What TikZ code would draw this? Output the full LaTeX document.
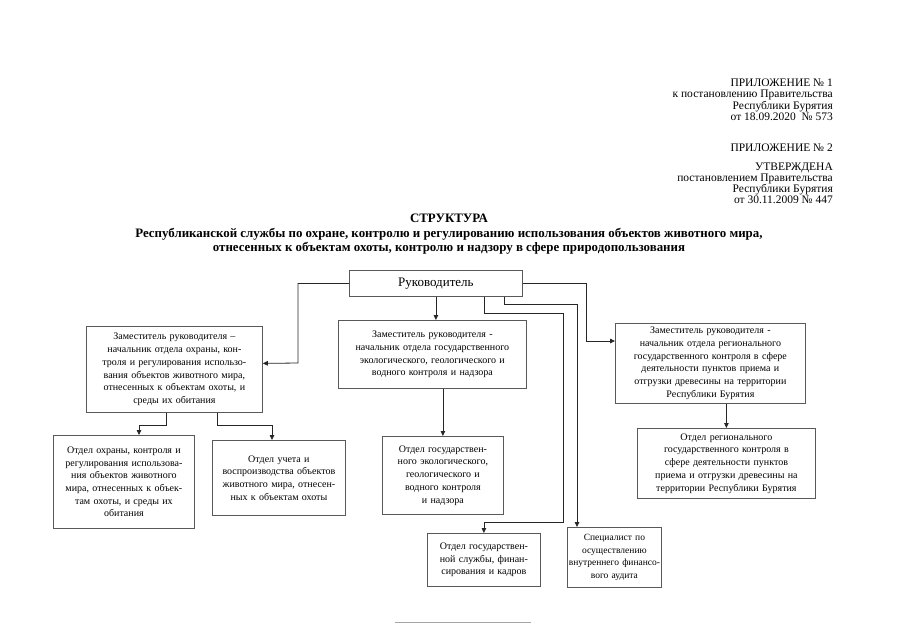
\documentclass[tikz,border=0pt]{standalone}
\usepackage{fontspec}
\setmainfont{Liberation Serif}
\usetikzlibrary{arrows.meta}
\begin{document}
\begin{tikzpicture}[x=1pt,y=-1pt,
  hdr/.style={anchor=base east, inner sep=0pt, font=\fontsize{11.5}{12}\selectfont},
  ttl/.style={anchor=base, inner sep=0pt, font=\fontsize{12.9}{14}\bfseries\selectfont},
  box/.style={draw=black!65, line width=0.8pt, align=center, inner sep=2pt,
    font=\fontsize{10}{12.7}\selectfont, anchor=north west},
  conn/.style={draw=black!85, line width=0.8pt, -{Triangle[length=5pt,width=4.5pt]}}]
\useasboundingbox (0,0) rectangle (905,640);
\fill[white] (0,0) rectangle (905,640);
% header
\node[hdr] (h1) at (833,86) {ПРИЛОЖЕНИЕ № 1};
\node[hdr] (h2) at (833,97.5) {к постановлению Правительства};
\node[hdr] (h3) at (833,109) {Республики Бурятия};
\node[hdr] (h4) at (833,120.5) {от 18.09.2020\ \ № 573};
\node[hdr] (h5) at (833,151) {ПРИЛОЖЕНИЕ № 2};
\node[hdr] (h6) at (833,170.5) {УТВЕРЖДЕНА};
\node[hdr] (h7) at (833,181.5) {постановлением Правительства};
\node[hdr] (h8) at (833,192.5) {Республики Бурятия};
\node[hdr] (h9) at (833,203.5) {от 30.11.2009 № 447};
% title
\node[ttl] (t1) at (449,222.5) {СТРУКТУРА};
\node[ttl] (t2) at (449,237) {Республиканской службы по охране, контролю и регулированию использования объектов животного мира,};
\node[ttl] (t3) at (449,251.5) {отнесенных к объектам охоты, контролю и надзору в сфере природопользования};
% boxes
\node[box, minimum width=173pt, minimum height=26pt, text width=165pt, font=\fontsize{13}{15}\selectfont] (ruk) at (349,270) {Руководитель};
\node[box, minimum width=176pt, minimum height=86pt, text width=170pt] (zamL) at (86,326)
  {Заместитель руководителя –\\начальник отдела охраны, кон-\\троля и регулирования использо-\\вания объектов животного мира,\\отнесенных к объектам охоты, и\\среды их обитания};
\node[box, minimum width=188pt, minimum height=68pt, text width=182pt] (zamC) at (338,320)
  {Заместитель руководителя -\\начальник отдела государственного\\экологического, геологического и\\водного контроля и надзора};
\node[box, minimum width=190pt, minimum height=80pt, text width=184pt] (zamR) at (615,323)
  {Заместитель руководителя -\\начальник отдела регионального\\государственного контроля в сфере\\деятельности пунктов приема и\\отгрузки древесины на территории\\Республики Бурятия};
\node[box, minimum width=141pt, minimum height=93pt, text width=135pt] (otdL1) at (53,435)
  {Отдел охраны, контроля и\\регулирования использова-\\ния объектов животного\\мира, отнесенных к объек-\\там охоты, и среды их\\обитания};
\node[box, minimum width=133pt, minimum height=75pt, text width=127pt] (otdL2) at (212,440)
  {Отдел учета и\\воспроизводства объектов\\животного мира, отнесен-\\ных к объектам охоты};
\node[box, minimum width=121pt, minimum height=78pt, text width=115pt] (otdC) at (382,436)
  {Отдел государствен-\\ного экологического,\\геологического и\\водного контроля\\и надзора};
\node[box, minimum width=178pt, minimum height=70pt, text width=172pt] (otdR) at (637,428)
  {Отдел регионального\\государственного контроля в\\сфере деятельности пунктов\\приема и отгрузки древесины на\\территории Республики Бурятия};
\node[box, minimum width=113pt, minimum height=53pt, text width=107pt] (gs) at (427,533)
  {Отдел государствен-\\ной службы, финан-\\сирования и кадров};
\node[box, inner xsep=0.5pt, minimum width=94pt, minimum height=60pt, text width=93pt,
  font=\fontsize{9.5}{12.7}\selectfont] (spec) at (567,527)
  {Специалист по\\осуществлению\\\mbox{внутреннего финансо-}\\вого аудита};
% connectors
\draw[conn] (ruk.west) -| (298,363) -- ([yshift=6pt]zamL.east);
\draw[conn] (ruk.south) -- (ruk.south |- zamC.north);
\draw[conn] (ruk.east) -| (586,341) -- ([yshift=-18pt]zamR.north west);
\draw[conn] (gs.north |- ruk.south) -- ++(0,17) -| (563,522) -| (gs.north);
\draw[conn] ([xshift=68pt]ruk.south) -- ++(0,8) -| ([xshift=10pt]spec.north west);
\draw[conn] ([xshift=80pt]zamL.south west) -- ++(0,13) -| ([xshift=86pt]otdL1.north west);
\draw[conn] ([xshift=131pt]zamL.south west) -- ++(0,13) -| ([xshift=60pt]otdL2.north west);
\draw[conn] (otdC.north |- zamC.south) -- (otdC.north);
\draw[conn] (otdR.north |- zamR.south) -- (otdR.north);
% footer rule
\draw[black!35, line width=1pt] (395,622) -- (531,622);
\end{tikzpicture}
\end{document}
